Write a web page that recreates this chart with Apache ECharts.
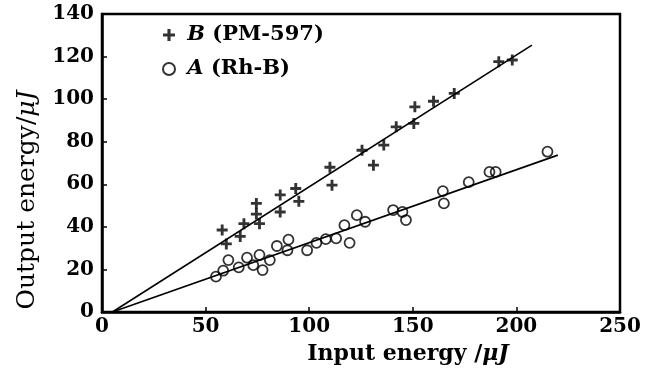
<!DOCTYPE html>
<html>
<head>
<meta charset="utf-8">
<script src="https://cdn.jsdelivr.net/npm/echarts@6/dist/echarts.min.js"></script>
<style>
html,body{margin:0;padding:0;background:#fff}
#paint{width:655px;height:374px}
</style>
</head>
<body>
<div id="paint"></div>
<script>
// B (PM-597) points
var b_input  = [58, 60, 66.7, 68.5, 74.5, 74.5, 76, 86, 86, 93.5, 95, 110, 111, 125.5, 131, 136, 142, 150.5, 151, 160, 170, 191.5, 198];
var b_output = [38.5, 32, 35.5, 41.5, 51, 46, 41.5, 55, 47, 58, 52, 68, 59.6, 76, 69, 78.4, 87, 88.6, 96.4, 99, 102.7, 117.6, 118.4];
// A (Rh-B) points
var a_input  = [55, 58.5, 61, 66, 70, 73, 76, 77.5, 81, 84.4, 89.5, 90, 99, 103.5, 108, 113, 117, 119.5, 123, 127, 140.5, 145, 146.7, 164.5, 165, 177, 187, 190, 215];
var a_output = [16.6, 19.4, 24.4, 21, 25.5, 22, 26.8, 19.7, 24.4, 31, 29, 34, 29, 32.5, 34.2, 34.6, 40.8, 32.5, 45.5, 42.4, 47.9, 47, 43.2, 56.8, 51, 61, 65.8, 65.8, 75.3];
// fitted lines (end points)
var b_fit_x = [5, 207.5];
var b_fit_y = [0, 125.4];
var a_fit_x = [5, 220];
var a_fit_y = [0, 73.7];

var x_ticks = [0, 250, 50];
var y_ticks = [0, 140, 20];

var plus = 'path://M3.7,0H6.3V3.7H10V6.3H6.3V10H3.7V6.3H0V3.7H3.7Z';
var font = 'DejaVu Serif';

function pairs(xs, ys){
    var out = [];
    for(var i = 0; i < xs.length; i++){
        out.push([xs[i], ys[i]]);
    }
    return out;
}

function txt(size, italic, weight){
    return {fontFamily: font, fontSize: size, fontWeight: weight || 'bold', fontStyle: italic ? 'italic' : 'normal', color: '#000'};
}

var chart = echarts.init(document.getElementById('paint'));

option = {
    backgroundColor: '#fff',
    animation: false,
    grid: {
        left: 102, right: 35, top: 14, bottom: 62,
        show: true, borderColor: '#000', borderWidth: 2.5
    },
    legend: {
        orient: 'vertical',
        left: 157, top: 18,
        itemGap: 10,
        itemWidth: 12, itemHeight: 12,
        data: [{name: 'B (PM-597)', icon: plus}, {name: 'A (Rh-B)', icon: 'circle'}],
        formatter: function(name){
            return ' {it|' + name.charAt(0) + '}' + name.substring(1);
        },
        textStyle: {
            fontFamily: font, fontSize: 21, fontWeight: 'bold', color: '#000', lineHeight: 24,
            rich: {it: txt(21, true)}
        }
    },
    xAxis: {
        type: 'value',
        min: x_ticks[0], max: x_ticks[1], interval: x_ticks[2],
        name: '{n|Input energy /}{it|μJ}',
        nameLocation: 'middle', nameGap: 31,
        nameTextStyle: {
            padding: [0, 0, 0, 94],
            rich: {n: txt(22), it: txt(22, true)}
        },
        axisLine: {lineStyle: {color: '#000', width: 2.5}},
        axisTick: {inside: true, length: 5, lineStyle: {color: '#000', width: 1.5}},
        axisLabel: {fontFamily: font, fontSize: 20, fontWeight: 'bold', color: '#000', margin: 5},
        splitLine: {show: false}
    },
    yAxis: {
        type: 'value',
        min: y_ticks[0], max: y_ticks[1], interval: y_ticks[2],
        name: '{n|Output energy/}{it|μJ}',
        nameLocation: 'middle', nameGap: 62,
        nameTextStyle: {
            padding: [0, 74, 0, 0],
            rich: {n: txt(25, false, 'normal'), it: txt(25, true, 'normal')}
        },
        axisLine: {lineStyle: {color: '#000', width: 2.5}},
        axisTick: {inside: true, length: 5, lineStyle: {color: '#000', width: 1.5}},
        axisLabel: {fontFamily: font, fontSize: 20, fontWeight: 'bold', color: '#000', margin: 8},
        splitLine: {show: false}
    },
    series: [{
        name: 'B (PM-597)',
        type: 'scatter',
        symbol: plus,
        symbolSize: 11,
        itemStyle: {color: '#000'},
        data: pairs(b_input, b_output)
    }, {
        name: 'A (Rh-B)',
        type: 'scatter',
        symbol: 'circle',
        symbolSize: 10,
        itemStyle: {color: 'rgba(0,0,0,0)', borderColor: '#000', borderWidth: 1.8},
        data: pairs(a_input, a_output)
    }, {
        name: 'B fit',
        type: 'line',
        symbol: 'none',
        lineStyle: {color: '#000', width: 1.6},
        data: pairs(b_fit_x, b_fit_y)
    }, {
        name: 'A fit',
        type: 'line',
        symbol: 'none',
        lineStyle: {color: '#000', width: 1.6},
        data: pairs(a_fit_x, a_fit_y)
    }]
};

chart.setOption(option);
</script>
</body>
</html>
